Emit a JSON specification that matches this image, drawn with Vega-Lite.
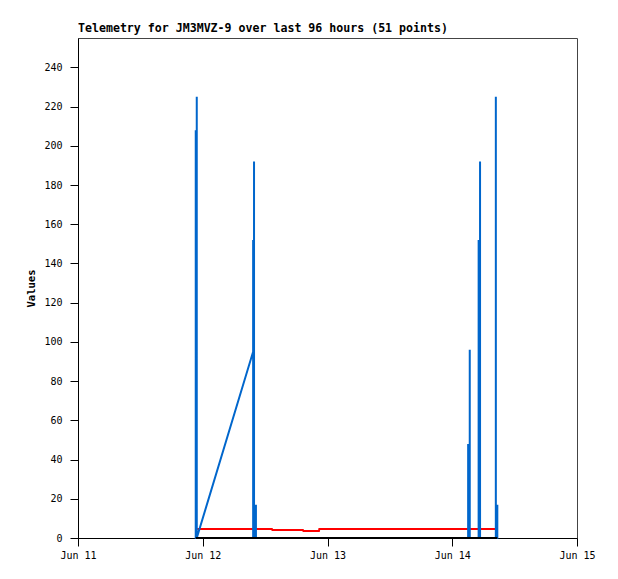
{
  "$schema": "https://vega.github.io/schema/vega-lite/v6.json",
  "width": 499,
  "height": 500,
  "autosize": {"type": "none"},
  "padding": {"left": 78, "top": 38, "right": 41, "bottom": 41},
  "background": "white",
  "title": {
    "text": "Telemetry for JM3MVZ-9 over last 96 hours (51 points)",
    "anchor": "start",
    "frame": "group",
    "font": "DejaVu Sans Mono",
    "fontSize": 11.6,
    "fontWeight": "bold",
    "color": "black",
    "offset": 3
  },
  "config": {
    "view": {"stroke": "#444444", "strokeWidth": 1},
    "axis": {
      "domainColor": "black",
      "tickColor": "black",
      "labelColor": "black",
      "titleColor": "black",
      "labelFont": "DejaVu Sans Mono",
      "labelFontSize": 10,
      "titleFont": "DejaVu Sans Mono",
      "titleFontSize": 10.5,
      "titleFontWeight": "bold",
      "grid": false,
      "tickSize": 8
    }
  },
  "datasets": {
    "blue": [
      {"time": "2024-06-11T22:39:00", "value": 0},
      {"time": "2024-06-11T22:39:10", "value": 208},
      {"time": "2024-06-11T22:39:20", "value": 0},
      {"time": "2024-06-11T22:50:40", "value": 0},
      {"time": "2024-06-11T22:50:50", "value": 225},
      {"time": "2024-06-11T22:51:00", "value": 0},
      {"time": "2024-06-12T09:41:30", "value": 95},
      {"time": "2024-06-12T09:41:40", "value": 152},
      {"time": "2024-06-12T09:41:50", "value": 0},
      {"time": "2024-06-12T09:51:45", "value": 0},
      {"time": "2024-06-12T09:51:55", "value": 192},
      {"time": "2024-06-12T09:52:05", "value": 0},
      {"time": "2024-06-12T10:13:40", "value": 0},
      {"time": "2024-06-12T10:13:50", "value": 17},
      {"time": "2024-06-12T10:14:00", "value": 0},
      {"time": "2024-06-14T03:03:20", "value": 0},
      {"time": "2024-06-14T03:03:30", "value": 48},
      {"time": "2024-06-14T03:03:40", "value": 0},
      {"time": "2024-06-14T03:21:50", "value": 0},
      {"time": "2024-06-14T03:22:00", "value": 96},
      {"time": "2024-06-14T03:22:10", "value": 0},
      {"time": "2024-06-14T05:04:30", "value": 0},
      {"time": "2024-06-14T05:04:40", "value": 152},
      {"time": "2024-06-14T05:04:50", "value": 0},
      {"time": "2024-06-14T05:20:40", "value": 0},
      {"time": "2024-06-14T05:20:50", "value": 192},
      {"time": "2024-06-14T05:21:00", "value": 0},
      {"time": "2024-06-14T08:23:00", "value": 0},
      {"time": "2024-06-14T08:23:10", "value": 225},
      {"time": "2024-06-14T08:23:20", "value": 0},
      {"time": "2024-06-14T08:40:10", "value": 0},
      {"time": "2024-06-14T08:40:20", "value": 17}
    ],
    "red": [
      {"time": "2024-06-11T22:56:00", "value": 4.6},
      {"time": "2024-06-12T13:18:00", "value": 4.6},
      {"time": "2024-06-12T13:24:00", "value": 4.1},
      {"time": "2024-06-12T19:16:00", "value": 4.1},
      {"time": "2024-06-12T19:22:00", "value": 3.6},
      {"time": "2024-06-12T22:21:00", "value": 3.6},
      {"time": "2024-06-12T22:26:00", "value": 4.6},
      {"time": "2024-06-14T08:40:00", "value": 4.6}
    ],
    "black": [
      {"time": "2024-06-11T22:39:00", "value": 0},
      {"time": "2024-06-14T08:40:20", "value": 0}
    ]
  },
  "encoding": {
    "x": {
      "field": "time",
      "type": "temporal",
      "scale": {
        "domain": [
          {"year": 2024, "month": 6, "date": 11},
          {"year": 2024, "month": 6, "date": 15}
        ],
        "nice": false
      },
      "axis": {
        "title": null,
        "format": "%b %d",
        "tickCount": {"interval": "day", "step": 1},
        "labelFlush": false,
        "labelOverlap": false,
        "labelPadding": 4
      }
    },
    "y": {
      "field": "value",
      "type": "quantitative",
      "scale": {"domain": [0, 255], "nice": false},
      "axis": {
        "title": "Values",
        "values": [0, 20, 40, 60, 80, 100, 120, 140, 160, 180, 200, 220, 240],
        "labelPadding": 8,
        "titlePadding": 7
      }
    }
  },
  "layer": [
    {
      "data": {"name": "red"},
      "mark": {"type": "line", "color": "#ff0000", "strokeWidth": 2, "interpolate": "linear"}
    },
    {
      "data": {"name": "blue"},
      "mark": {"type": "line", "color": "#0066cc", "strokeWidth": 2, "interpolate": "linear"}
    },
    {
      "data": {"name": "black"},
      "mark": {"type": "line", "color": "#000000", "strokeWidth": 2, "interpolate": "linear"}
    }
  ]
}
